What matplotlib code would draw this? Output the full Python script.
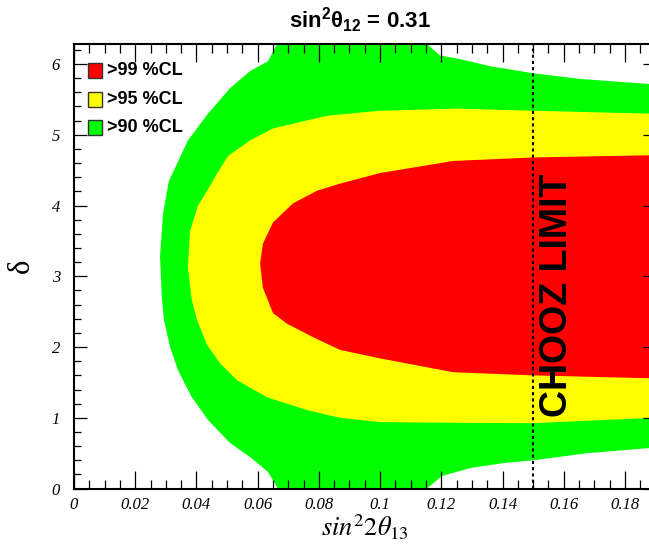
import matplotlib
matplotlib.use('Agg')
import matplotlib.pyplot as plt
from matplotlib.patches import Rectangle
from matplotlib.ticker import MultipleLocator
import numpy as np

# ---------------- data ----------------
# >90 %CL region boundary (sin^2 2theta13, delta)
green_x = [0.1900, 0.1872, 0.1653, 0.1500, 0.1359, 0.1261, 0.1196, 0.1153,
           0.0663, 0.0634, 0.0575, 0.0510, 0.0438, 0.0372, 0.0330, 0.0310,
           0.0291, 0.0281, 0.0287, 0.0294, 0.0314, 0.0340, 0.0385, 0.0438,
           0.0510, 0.0575, 0.0634, 0.0666,
           0.1153, 0.1202, 0.1294, 0.1402, 0.1500, 0.1676, 0.1872, 0.1900]
green_d = [5.71, 5.72, 5.79, 5.87, 5.97, 6.07, 6.12, 6.2832,
           6.2832, 6.04, 5.90, 5.66, 5.30, 4.92, 4.53, 4.35,
           3.89, 3.28, 2.70, 2.38, 2.00, 1.67, 1.29, 0.968,
           0.643, 0.446, 0.235, 0.0,
           0.0, 0.178, 0.29, 0.36, 0.40, 0.50, 0.57, 0.58]

# >95 %CL region boundary
yellow_x = [0.1900, 0.1872, 0.1500, 0.1250, 0.1000, 0.0827, 0.0650, 0.0575,
            0.0503, 0.0467, 0.0435, 0.0405, 0.0379, 0.0372, 0.0385, 0.0402,
            0.0435, 0.0477, 0.0533, 0.0631, 0.0761, 0.0869, 0.1000, 0.1250,
            0.1500, 0.1872, 0.1900]
yellow_d = [5.30, 5.30, 5.34, 5.37, 5.34, 5.27, 5.09, 4.92,
            4.70, 4.45, 4.21, 4.00, 3.64, 3.12, 2.66, 2.38,
            2.03, 1.77, 1.53, 1.29, 1.11, 1.00, 0.94, 0.93,
            0.925, 0.996, 1.00]

# >99 %CL region boundary
red_x = [0.1900, 0.1872, 0.1500, 0.1238, 0.1000, 0.0869, 0.0794, 0.0715,
         0.0650, 0.0617, 0.0608, 0.0617, 0.0650, 0.0696, 0.0781, 0.0869,
         0.1000, 0.1238, 0.1500, 0.1872, 0.1900]
red_d = [4.71, 4.71, 4.68, 4.63, 4.46, 4.31, 4.21, 4.03,
         3.76, 3.46, 3.18, 2.84, 2.48, 2.33, 2.14, 1.96,
         1.84, 1.645, 1.60, 1.56, 1.56]

chooz_limit = 0.15

legend_labels = ['>99 %CL', '>95 %CL', '>90 %CL']
legend_colors = ['#ff0000', '#ffff00', '#00ff00']

xtick_vals = [0, 0.02, 0.04, 0.06, 0.08, 0.1, 0.12, 0.14, 0.16, 0.18]
xtick_labels = ['0', '0.02', '0.04', '0.06', '0.08', '0.1', '0.12', '0.14', '0.16', '0.18']
ytick_vals = [0, 1, 2, 3, 4, 5, 6]
ytick_labels = ['0', '1', '2', '3', '4', '5', '6']

# ---------------- figure ----------------
plt.rcParams['mathtext.fontset'] = 'custom'
plt.rcParams['mathtext.rm'] = 'Liberation Sans:bold'
plt.rcParams['mathtext.bf'] = 'Liberation Sans:bold'
plt.rcParams['mathtext.it'] = 'Liberation Sans:bold'

fig = plt.figure(figsize=(6.49, 5.48), dpi=100)
W, H = 649.0, 548.0
ax = fig.add_axes([74 / W, 59.4 / H, 581.6 / W, 444.6 / H])

ax.fill(green_x, green_d, color='#00ff00', lw=0, zorder=1)
ax.fill(yellow_x, yellow_d, color='#ffff00', lw=0, zorder=1.1)
ax.fill(red_x, red_d, color='#ff0000', lw=0, zorder=1.2)

ax.axvline(chooz_limit, color='black', lw=1.5, ls=(0, (1.5, 1.5)), zorder=3)

ax.set_xlim(0, 0.19)
ax.set_ylim(0, 2 * np.pi)

tick_font = dict(fontfamily='Liberation Serif', fontstyle='italic', fontsize=12)
ax.set_xticks(xtick_vals, xtick_labels, **tick_font)
ax.set_yticks(ytick_vals, ytick_labels, **tick_font)
ax.xaxis.set_minor_locator(MultipleLocator(0.005))
ax.yaxis.set_minor_locator(MultipleLocator(0.2))

ax.tick_params(axis='x', which='major', direction='in', length=13, width=0.9,
               top=True, bottom=True, pad=6)
ax.tick_params(axis='x', which='minor', direction='in', length=6.5, width=0.9,
               top=True, bottom=True)
ax.tick_params(axis='y', which='major', direction='in', length=9.4, width=0.9,
               left=True, right=True, pad=10)
ax.tick_params(axis='y', which='minor', direction='in', length=5, width=0.9,
               left=True, right=True)
for sp in ax.spines.values():
    sp.set_linewidth(1.5)
    sp.set_zorder(4)

# axis labels
ax.text((365 - 74) / 581.6, (488.6 - 536) / 444.6,
        r'$\mathit{sin}^{2}2\theta_{\mathit{13}}$', transform=ax.transAxes,
        ha='center', va='baseline', fontsize=19, math_fontfamily='stix')
ax.text((21 - 74) / 581.6, 0.5, 'δ', transform=ax.transAxes, rotation=90,
        ha='center', va='center', fontsize=22, fontfamily='Liberation Serif')

# title
ax.text((360 - 74) / 581.6, (488.6 - 28) / 444.6,
        r'sin$^{2}$θ$_{12}$ = 0.31', transform=ax.transAxes,
        ha='center', va='baseline', fontsize=16, fontweight='bold',
        fontfamily='Liberation Sans')

# CHOOZ label
ax.text(0.1577, 2.73, 'CHOOZ LIMIT', rotation=90, ha='center', va='center',
        fontsize=27, fontweight='bold', fontfamily='Liberation Sans', zorder=5)

# legend (ROOT style)
box_tops = [63, 92, 120]
for lab, col, top in zip(legend_labels, legend_colors, box_tops):
    y0 = (488.6 - (top + 15)) / 444.6
    ax.add_patch(Rectangle(((88 - 74) / 581.6, y0), 14 / 581.6, 15 / 444.6,
                           transform=ax.transAxes, facecolor=col,
                           edgecolor='#333333', lw=1, zorder=6))
    ax.text((107 - 74) / 581.6, y0 + 7.5 / 444.6, lab, transform=ax.transAxes,
            ha='left', va='center', fontsize=13, fontweight='bold',
            fontfamily='Liberation Sans', zorder=6)

fig.savefig('out.png', dpi=100)
